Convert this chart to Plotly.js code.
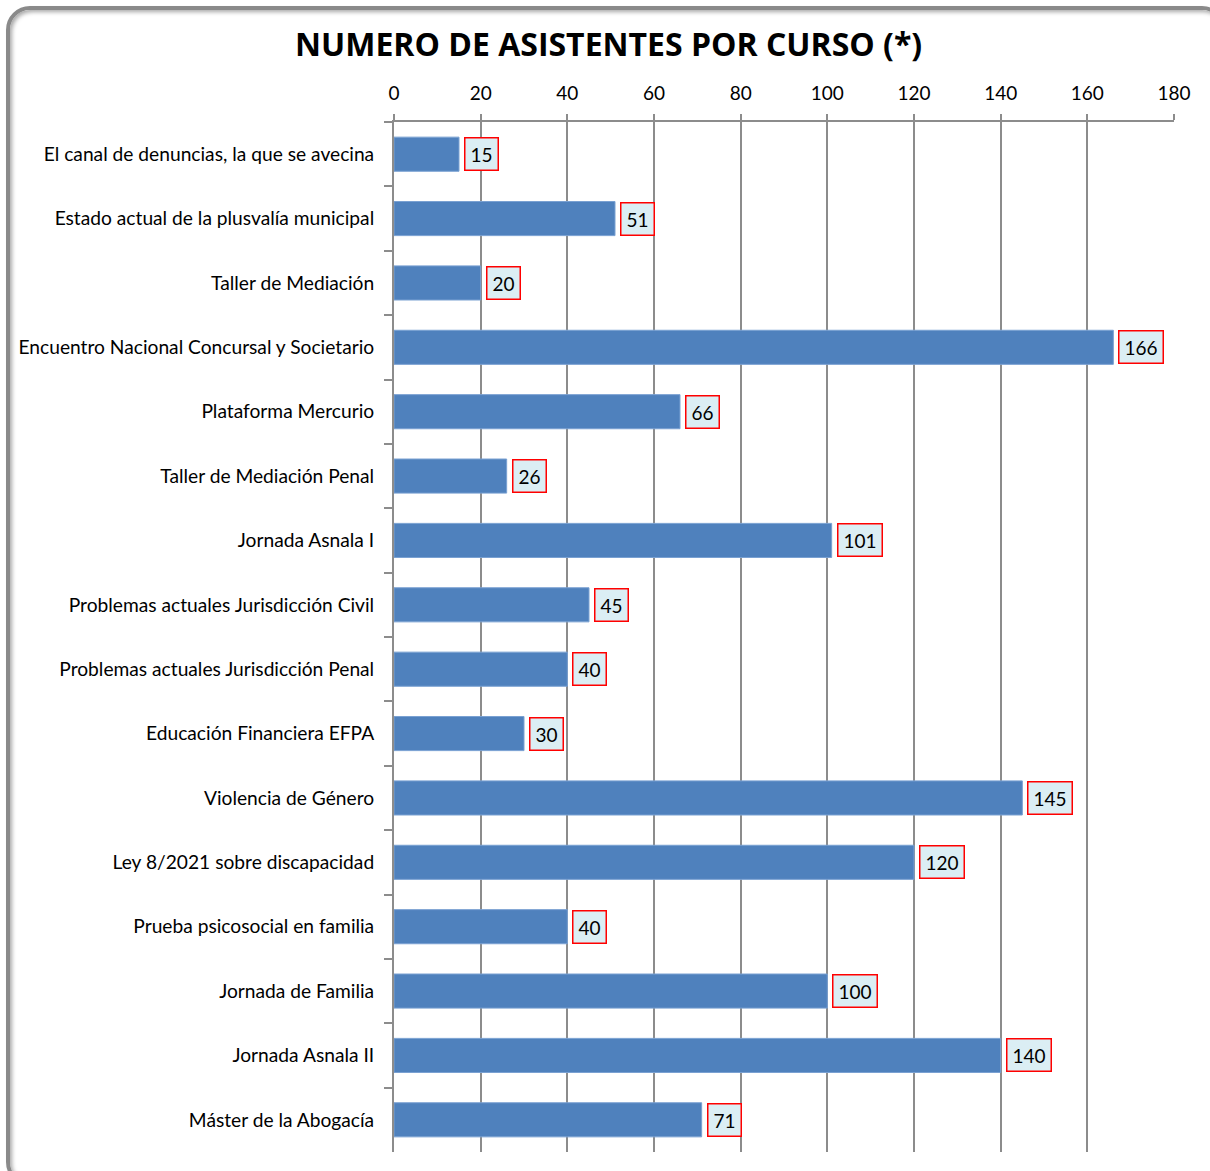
<!DOCTYPE html>
<html>
<head>
<meta charset="utf-8">
<script src="https://cdn.plot.ly/plotly-3.0.1.min.js"></script>
<style>
html,body{margin:0;padding:0;background:#fff;width:1210px;height:1171px;overflow:hidden;}
#frame{position:absolute;left:6px;top:6px;width:1220px;height:1180px;border:4px solid #8a8a8a;border-radius:24px;box-shadow:inset 2px 2px 4px rgba(0,0,0,0.35),2px 2px 3px rgba(0,0,0,0.25);box-sizing:border-box;}
#chart{position:absolute;left:0;top:0;width:1210px;height:1171px;}
</style>
</head>
<body>
<div id="frame"></div>
<div id="chart"></div>
<script>
const categories = [
  "El canal de denuncias, la que se avecina",
  "Estado actual de la plusvalía municipal",
  "Taller de Mediación",
  "Encuentro Nacional Concursal y Societario",
  "Plataforma Mercurio",
  "Taller de Mediación Penal",
  "Jornada Asnala I",
  "Problemas actuales Jurisdicción Civil",
  "Problemas actuales Jurisdicción Penal",
  "Educación Financiera EFPA",
  "Violencia de Género",
  "Ley 8/2021 sobre discapacidad",
  "Prueba psicosocial en familia",
  "Jornada de Familia",
  "Jornada Asnala II",
  "Máster de la Abogacía"
];
const asistentes = [15, 51, 20, 166, 66, 26, 101, 45, 40, 30, 145, 120, 40, 100, 140, 71];
const titleText = "NUMERO DE ASISTENTES POR CURSO (*)";

const FONT = "Lato, 'Open Sans', sans-serif";

const trace = {
  type: 'bar',
  orientation: 'h',
  y: categories,
  x: asistentes,
  width: 0.53,
  marker: {color: '#4f81bd', line: {color: '#7aa1d2', width: 1}},
  hoverinfo: 'x+y'
};

const annotations = categories.map((c, i) => {
  const s = String(asistentes[i]);
  return {
    x: asistentes[i], y: c, xref: 'x', yref: 'y',
    text: s,
    showarrow: false, xanchor: 'left', xshift: 5,
    width: s.length >= 3 ? 37 : 26, height: 25, align: 'center', valign: 'middle',
    bgcolor: '#dbeef4', bordercolor: '#ff0000', borderwidth: 1.5, borderpad: 3,
    font: {family: FONT, size: 19, color: '#000'}
  };
});

const layout = {
  width: 1210, height: 1171,
  paper_bgcolor: 'rgba(0,0,0,0)', plot_bgcolor: 'rgba(0,0,0,0)',
  margin: {l: 394, r: 36, t: 122, b: 19},
  font: {family: FONT, size: 19, color: '#000'},
  title: {text: '<b>' + titleText + '</b>', x: 0.503, xanchor: 'center', y: 0.962, yanchor: 'middle',
          font: {family: "'Open Sans', Lato, sans-serif", size: 32, color: '#000'}},
  xaxis: {
    side: 'top', range: [0, 180], dtick: 20, tick0: 0,
    showgrid: true, gridcolor: '#8c8c8c', gridwidth: 2,
    showline: true, linecolor: '#8c8c8c', linewidth: 2,
    ticks: 'outside', ticklen: 6, tickcolor: '#8c8c8c', tickwidth: 2,
    ticklabelstandoff: 6,
    zeroline: false, fixedrange: true,
    tickfont: {family: FONT, size: 19, color: '#000'}
  },
  yaxis: {
    type: 'category', autorange: 'reversed',
    showline: true, linecolor: '#8c8c8c', linewidth: 2,
    ticks: 'outside', tickson: 'boundaries', ticklen: 8, tickcolor: '#8c8c8c', tickwidth: 2,
    showgrid: false, ticklabelstandoff: 14,
    tickfont: {family: FONT, size: 19.2, color: '#000'}
  },
  annotations: annotations,
  bargap: 0.47,
  showlegend: false
};

Plotly.newPlot('chart', [trace], layout, {displayModeBar: false, staticPlot: true});
</script>
</body>
</html>
